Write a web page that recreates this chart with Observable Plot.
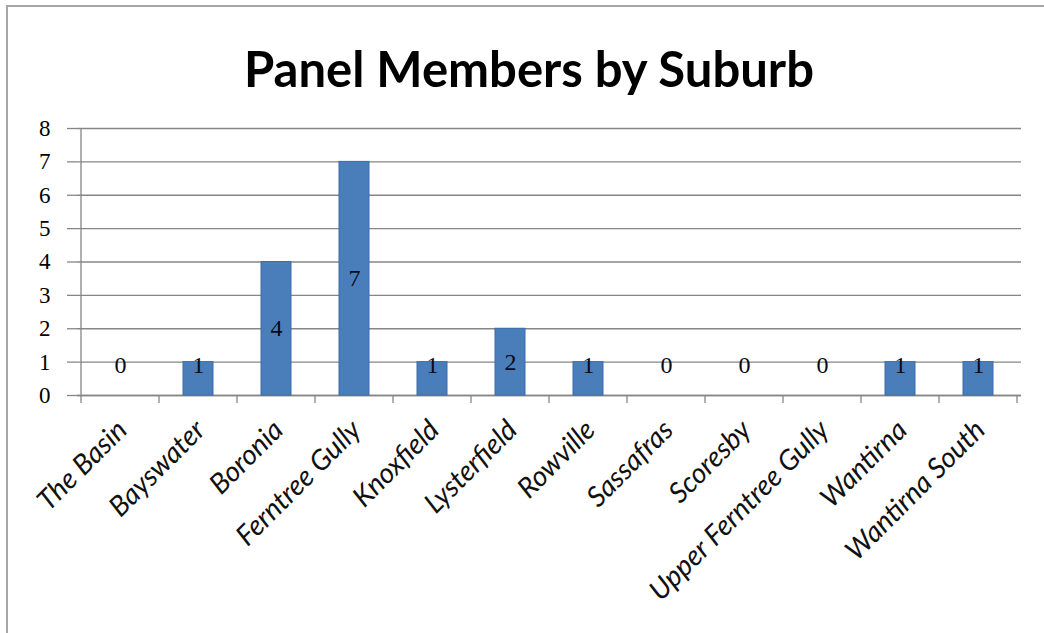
<!DOCTYPE html>
<html>
<head>
<meta charset="utf-8">
<script src="https://cdn.jsdelivr.net/npm/d3@7"></script>
<script src="https://cdn.jsdelivr.net/npm/@observablehq/plot@0.6"></script>
<style>
  html, body { margin: 0; padding: 0; background: #fff; overflow: hidden; }
  #wrap { position: relative; width: 1044px; height: 633px; overflow: hidden; background: #fff; }
  #frame { position: absolute; left: 6px; top: 5px; width: 1200px; height: 800px; border-left: 2px solid #a6a6a6; border-top: 2px solid #a6a6a6; box-sizing: border-box; pointer-events: none; }
  #title { height: 110px; box-sizing: border-box; padding-top: 39px; padding-left: 14px; text-align: center; font-family: Lato, "Open Sans", sans-serif; font-weight: bold; font-size: 49px; line-height: 58.8px; color: #000; white-space: nowrap; }
  svg { display: block; }
</style>
</head>
<body>
<div id="wrap">
  <div id="title">Panel Members by Suburb</div>
  <div id="chart"></div>
  <div id="frame"></div>
</div>
<script>
const suburbs = ["The Basin", "Bayswater", "Boronia", "Ferntree Gully", "Knoxfield", "Lysterfield", "Rowville", "Sassafras", "Scoresby", "Upper Ferntree Gully", "Wantirna", "Wantirna South"];
const members = [0, 1, 4, 7, 1, 2, 1, 0, 0, 0, 1, 1];
const yTicks = [0, 1, 2, 3, 4, 5, 6, 7, 8];

const data = suburbs.map((s, i) => ({suburb: s, value: members[i]}));

const W = 1044, H = 523, ML = 77, MR = 23, MT = 18, MB = 238;

const chart = Plot.plot({
  width: W,
  height: H,
  marginLeft: ML,
  marginRight: MR,
  marginTop: MT,
  marginBottom: MB,
  style: {background: "transparent", overflow: "visible"},
  x: {domain: suburbs, paddingInner: 0.61, paddingOuter: 0.305, label: null},
  y: {domain: [0, 8], label: null},
  marks: [
    Plot.gridY(yTicks, {stroke: "#868686", strokeOpacity: 1, strokeWidth: 1.3}),
    Plot.ruleY([0], {stroke: "#868686", strokeWidth: 1.3}),
    Plot.barY(data, {x: "suburb", y: "value", fill: "#4A7EBB", stroke: "#3D6DA8", strokeWidth: 1}),
    Plot.axisY(yTicks, {
      tickSize: 10, tickPadding: 17, stroke: "#868686", strokeWidth: 1.3,
      fontSize: 23, fontFamily: "'Liberation Serif', 'DejaVu Serif', serif", fill: "#000",
      tickFormat: d => String(d)
    }),
    Plot.axisX({
      tickSize: 0, tickRotate: -45, tickPadding: 10, textAnchor: "end",
      dx: 2, dy: 20,
      fontSize: 28, fontFamily: "Lato, 'Open Sans', sans-serif", fontStyle: "italic", fill: "#111",
      label: null
    }),
    Plot.text(data, {
      x: "suburb",
      y: d => Math.max(d.value / 2, 0.9),
      text: d => String(d.value),
      fontSize: 24, fontFamily: "'Liberation Serif', 'DejaVu Serif', serif", fill: "#0a0a1a"
    })
  ]
});
document.getElementById("chart").appendChild(chart);

// vertical value axis line and category boundary tick marks (derived from the scales)
const xs = chart.scale("x"), ys = chart.scale("y");
const y0 = ys.apply(0), y8 = ys.apply(8);
const g = d3.select(chart).append("g").attr("stroke", "#868686").attr("stroke-width", 1.3);
const half = (xs.step - xs.bandwidth) / 2;
const edges = suburbs.map(s => xs.apply(s) - half);
edges.push(xs.apply(suburbs[suburbs.length - 1]) + xs.bandwidth + half);
g.append("line").attr("x1", edges[0]).attr("x2", edges[0]).attr("y1", y8).attr("y2", y0);
edges.forEach(x => g.append("line").attr("x1", x).attr("x2", x).attr("y1", y0).attr("y2", y0 + 8));
</script>
</body>
</html>
